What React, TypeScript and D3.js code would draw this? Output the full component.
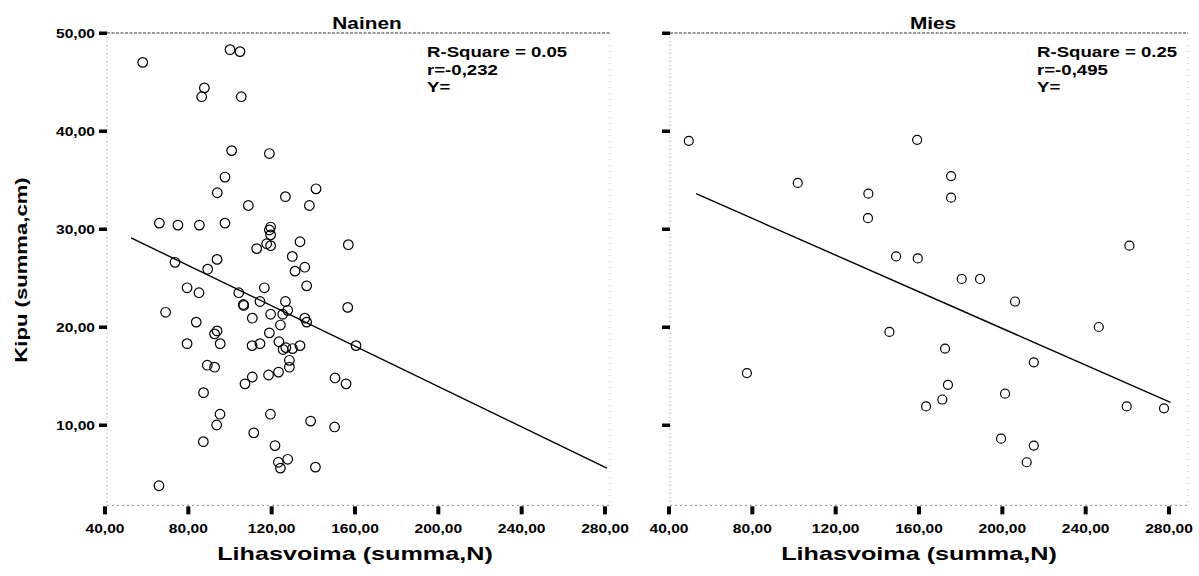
import React from "react";
import * as d3 from "d3";

// Nainen (women): Lihasvoima (x) vs Kipu (y)
const womenX = [
  58.1, 100.0, 104.8, 87.7, 86.4, 105.4, 100.8, 118.9, 97.6, 93.9, 126.6, 141.3, 108.8,
  138.1, 66.1, 75.0, 85.3, 97.6, 119.5, 118.9, 119.5, 117.6, 119.5, 112.8, 133.6, 156.8,
  73.6, 89.3, 93.8, 79.4, 85.1, 104.2, 116.5, 69.1, 106.4, 106.6, 114.4, 110.7, 119.5,
  126.6, 127.7, 125.3, 124.2, 129.9, 131.2, 135.9, 136.8, 135.9, 136.8, 156.5, 83.8,
  92.6, 93.8, 79.4, 95.3, 110.6, 114.4, 118.9, 123.5, 125.5, 126.8, 130.0, 133.6, 128.5,
  128.5, 89.1, 92.6, 123.3, 118.5, 110.7, 107.2, 150.4, 155.7, 87.3, 95.2, 93.6, 119.4,
  138.7, 150.2, 111.4, 87.2, 121.6, 127.7, 123.2, 124.2, 141.0, 65.9, 160.5,
];
const womenY = [
  47.0, 48.3, 48.1, 44.4, 43.5, 43.5, 38.0, 37.7, 35.3, 33.7, 33.3, 34.1, 32.4,
  32.4, 30.6, 30.4, 30.4, 30.6, 30.2, 29.9, 29.4, 28.5, 28.3, 28.0, 28.7, 28.4,
  26.6, 25.9, 26.9, 24.0, 23.5, 23.5, 24.0, 21.5, 22.3, 22.2, 22.6, 20.9, 21.3,
  22.6, 21.7, 21.3, 20.2, 27.2, 25.7, 26.1, 24.2, 20.9, 20.5, 22.0, 20.5,
  19.3, 19.6, 18.3, 18.3, 18.1, 18.3, 19.4, 18.5, 17.7, 17.9, 17.8, 18.1, 16.6,
  15.9, 16.1, 15.9, 15.4, 15.1, 14.9, 14.2, 14.8, 14.2, 13.3, 11.1, 10.0, 11.1,
  10.4, 9.8, 9.2, 8.3, 7.9, 6.5, 6.2, 5.6, 5.7, 3.8, 18.1,
];

// Mies (men)
const menX = [
  49.5, 101.8, 135.7, 135.5, 159.1, 149.0, 159.4, 145.8, 77.4, 175.4, 175.4, 261.0, 180.5,
  189.3, 206.1, 246.3, 172.5, 215.1, 173.9, 201.3, 163.4, 171.2, 259.7, 277.6, 199.4,
  215.1, 211.7,
];
const menY = [
  39.0, 34.7, 33.6, 31.1, 39.1, 27.2, 27.0, 19.5, 15.3, 35.4, 33.2, 28.3, 24.9,
  24.9, 22.6, 20.0, 17.8, 16.4, 14.1, 13.2, 11.9, 12.6, 11.9, 11.7, 8.6,
  7.9, 6.2,
];

// fit line ends
const womenFitX = [52.5, 280.9];
const womenFitY = [29.1, 5.6];
const menFitX = [53.0, 280.7];
const menFitY = [33.6, 12.3];

const xTicks = [40, 80, 120, 160, 200, 240, 280];
const yTicks = [10, 20, 30, 40, 50];

const panels = [
  {
    title: "Nainen", xs: womenX, ys: womenY, fx: womenFitX, fy: womenFitY,
    stats: ["R-Square = 0.05", "r=-0,232", "Y="],
    range: [105, 605], axisX: 107, right: 610, statX: 427, titleX: 367, r: 4.8,
  },
  {
    title: "Mies", xs: menX, ys: menY, fx: menFitX, fy: menFitY,
    stats: ["R-Square = 0.25", "r=-0,495", "Y="],
    range: [669, 1169], axisX: 670, right: 1188, statX: 1037, titleX: 933, r: 4.5,
  },
];

const FONT = "'Liberation Sans', Arial, Helvetica, sans-serif";
const fmt = (v: number) => d3.format(".2f")(v).replace(".", ",");

const y = d3.scaleLinear().domain([0, 50]).range([523, 33]);
const yBottom = y(1.8);

function T({ x, y, size, sx = 1.3, anchor = "start", rotate = 0, children }: any) {
  return (
    <text
      transform={`translate(${x},${y}) rotate(${rotate}) scale(${sx},1)`}
      textAnchor={anchor}
      fontSize={size}
      fontWeight="bold"
      fontFamily={FONT}
      fill="#000"
    >
      {children}
    </text>
  );
}

function Panel({ p, showY }: any) {
  const x = d3.scaleLinear().domain([40, 280]).range(p.range);
  const fit = d3.line<number>()
    .x((d) => x(p.fx[d]))
    .y((d) => y(p.fy[d]));
  const top = y(50);
  return (
    <g>
      {/* frame, faint like the scan */}
      <g fill="none">
        <line x1={p.axisX} x2={p.right} y1={top} y2={top} stroke="#333" strokeDasharray="3,1.5" />
        <line x1={p.axisX} x2={p.axisX} y1={top} y2={yBottom} stroke="#999" strokeDasharray="1,3" />
        <line x1={p.axisX} x2={p.right} y1={yBottom} y2={yBottom} stroke="#888" strokeDasharray="2,3" />
        <line x1={p.right} x2={p.right} y1={top} y2={yBottom} stroke="#bbb" strokeDasharray="1,5" />
      </g>
      {/* y ticks */}
      {yTicks.map((t) => (
        <g key={"y" + t}>
          <rect x={p.axisX - 8} y={y(t) - 1.5} width={8} height={3.5} fill="#000" />
          {showY && (
            <T x={p.axisX - 12} y={y(t) + 4.5} size={13} sx={1.2} anchor="end">
              {fmt(t)}
            </T>
          )}
        </g>
      ))}
      {/* x ticks */}
      {xTicks.map((t) => (
        <g key={"x" + t}>
          <rect x={x(t) - 2} y={yBottom + 1} width={4} height={8} fill="#000" />
          <T x={x(t)} y={yBottom + 28} size={13} sx={1.2} anchor="middle">
            {fmt(t)}
          </T>
        </g>
      ))}
      {/* fit line */}
      <path d={fit([0, 1]) || ""} stroke="#000" strokeWidth={1.4} fill="none" />
      {/* points */}
      {p.xs.map((v: number, i: number) => (
        <circle key={i} cx={x(v)} cy={y(p.ys[i])} r={p.r} fill="none" stroke="#000" strokeWidth={1.2} />
      ))}
      <T x={p.titleX} y={29} size={16} sx={1.3} anchor="middle">{p.title}</T>
      {p.stats.map((s: string, i: number) => (
        <T key={s} x={p.statX} y={57 + i * 17.5} size={14} sx={1.33}>{s}</T>
      ))}
      <T x={(p.range[0] + p.range[1]) / 2} y={560} size={18} sx={1.4} anchor="middle">
        Lihasvoima (summa,N)
      </T>
    </g>
  );
}

export default function App() {
  return (
    <svg
      width={1199}
      height={576}
      style={{ position: "absolute", left: 0, top: 0, background: "#fff" }}
    >
      <rect width={1199} height={576} fill="#fff" />
      <T x={27} y={270} size={17} sx={1.3} anchor="middle" rotate={-90}>
        Kipu (summa,cm)
      </T>
      {panels.map((p, i) => (
        <Panel key={p.title} p={p} showY={i === 0} />
      ))}
    </svg>
  );
}
